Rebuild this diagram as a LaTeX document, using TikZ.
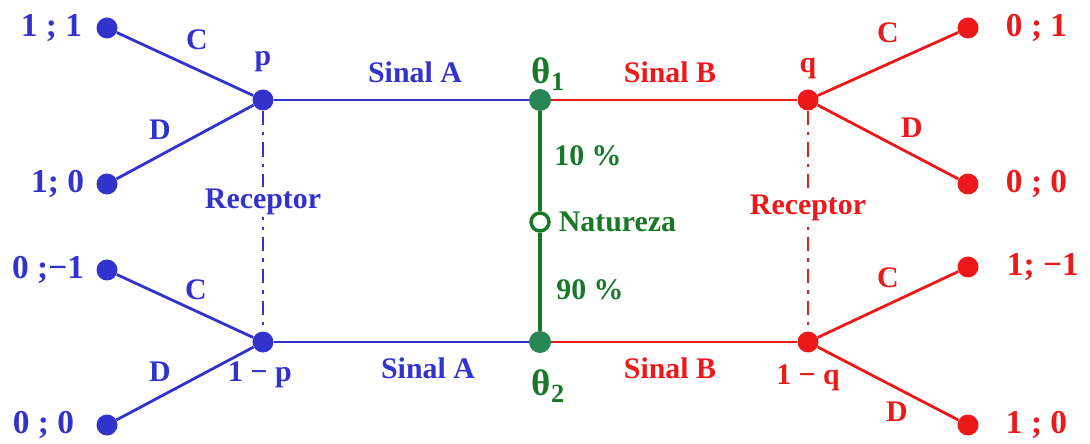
\documentclass[tikz,border=0pt]{standalone}
\usepackage{fontspec}
\setmainfont{Liberation Serif}
\usepackage{tikz}
\usetikzlibrary{positioning,calc}
\definecolor{recblue}{RGB}{50,50,205}
\definecolor{recred}{RGB}{235,25,25}
\definecolor{natgreen}{RGB}{25,120,40}
\definecolor{dotgreen}{RGB}{40,135,85}
\newcommand{\lowsub}[1]{\raisebox{-0.45ex}{\fontsize{15}{15}\selectfont #1}}
\tikzset{
  txt/.style={font=\fontsize{17}{20}\selectfont\bfseries, inner sep=1pt},
  pay/.style={font=\fontsize{19}{22}\selectfont\bfseries, inner sep=1pt},
  bdot/.style={circle, fill=recblue, inner sep=0pt, minimum size=0.42cm},
  rdot/.style={circle, fill=recred, inner sep=0pt, minimum size=0.42cm},
  gdot/.style={circle, fill=dotgreen, inner sep=0pt, minimum size=0.44cm},
  branch/.style={line width=1.6pt},
  signal/.style={line width=1.5pt},
  info/.style={line width=1.2pt, dash pattern=on 8pt off 4pt on 2pt off 4pt}
}
\begin{document}
\begin{tikzpicture}
    \useasboundingbox (0,0) rectangle (21.8,8.86);

    % Nature
    \node[gdot] (t1) at (10.8, 6.86) {};
    \node[gdot] (t2) at (10.8, 2.02) {};
    \node[circle, draw=natgreen, line width=2pt, fill=white, inner sep=0pt, minimum size=0.36cm] (nat) at (10.8, 4.42) {};
    \draw[line width=2pt, natgreen] (t1) -- (nat);
    \draw[line width=2pt, natgreen] (nat) -- (t2);
    \node[txt, natgreen, font=\fontsize{21}{24}\selectfont\bfseries] at (10.96, 7.38) {θ\lowsub{1}};
    \node[txt, natgreen, font=\fontsize{21}{24}\selectfont\bfseries] at (10.96, 1.14) {θ\lowsub{2}};
    \node[txt, natgreen] at (11.76, 5.74) {10 \%};
    \node[txt, natgreen, right=0.12cm of nat] {Natureza};
    \node[txt, natgreen] at (11.8, 3.06) {90 \%};

    % Sender sends A (blue side)
    \node[bdot] (p1) at (5.26, 6.86) {};
    \node[bdot] (p2) at (5.26, 2.02) {};
    \draw[signal, recblue] (p1) -- (t1);
    \draw[signal, recblue] (p2) -- (t2);
    \node[txt, recblue] at (8.3, 7.42) {Sinal A};
    \node[txt, recblue] at (8.56, 1.5) {Sinal A};
    \draw[info, recblue] (p1) -- (p2);
    \node[txt, recblue, fill=white] at (5.26, 4.82) {Receptor};
    \node[txt, recblue] at (5.26, 7.62) {p};
    \node[txt, recblue] at (5.2, 1.36) {1 − p};

    % blue leaves
    \node[bdot] (a1) at (2.14, 8.3) {};
    \node[bdot] (a2) at (2.14, 5.18) {};
    \node[bdot] (a3) at (2.14, 3.46) {};
    \node[bdot] (a4) at (2.14, 0.36) {};
    \draw[branch, recblue] (a1) -- (p1);
    \draw[branch, recblue] (a2) -- (p1);
    \draw[branch, recblue] (a3) -- (p2);
    \draw[branch, recblue] (a4) -- (p2);
    \node[pay, recblue, left=0.24cm of a1] {1 ; 1};
    \node[pay, recblue, left=0.2cm of a2] {1; 0};
    \node[pay, recblue, left=0.2cm of a3] {0 ;−1};
    \node[pay, recblue, left=0.4cm of a4] {0 ; 0};
    \node[txt, recblue] at (3.94, 8.06) {C};
    \node[txt, recblue] at (3.2, 6.26) {D};
    \node[txt, recblue] at (3.92, 3.06) {C};
    \node[txt, recblue] at (3.2, 1.42) {D};

    % Sender sends B (red side)
    \node[rdot] (q1) at (16.16, 6.86) {};
    \node[rdot] (q2) at (16.16, 2.02) {};
    \draw[signal, recred] (t1) -- (q1);
    \draw[signal, recred] (t2) -- (q2);
    \node[txt, recred] at (13.4, 7.42) {Sinal B};
    \node[txt, recred] at (13.4, 1.5) {Sinal B};
    \draw[info, recred] (q1) -- (q2);
    \node[txt, recred, fill=white] at (16.16, 4.7) {Receptor};
    \node[txt, recred] at (16.16, 7.5) {q};
    \node[txt, recred] at (16.16, 1.3) {1 − q};

    % red leaves
    \node[rdot] (b1) at (19.36, 8.3) {};
    \node[rdot] (b2) at (19.36, 5.18) {};
    \node[rdot] (b3) at (19.36, 3.52) {};
    \node[rdot] (b4) at (19.36, 0.36) {};
    \draw[branch, recred] (q1) -- (b1);
    \draw[branch, recred] (q1) -- (b2);
    \draw[branch, recred] (q2) -- (b3);
    \draw[branch, recred] (q2) -- (b4);
    \node[pay, recred, right=0.5cm of b1] {0 ; 1};
    \node[pay, recred, right=0.5cm of b2] {0 ; 0};
    \node[pay, recred, right=0.52cm of b3] {1; −1};
    \node[pay, recred, right=0.5cm of b4] {1 ; 0};
    \node[txt, recred] at (17.76, 8.2) {C};
    \node[txt, recred] at (18.24, 6.3) {D};
    \node[txt, recred] at (17.76, 3.3) {C};
    \node[txt, recred] at (17.94, 0.62) {D};
\end{tikzpicture}
\end{document}
